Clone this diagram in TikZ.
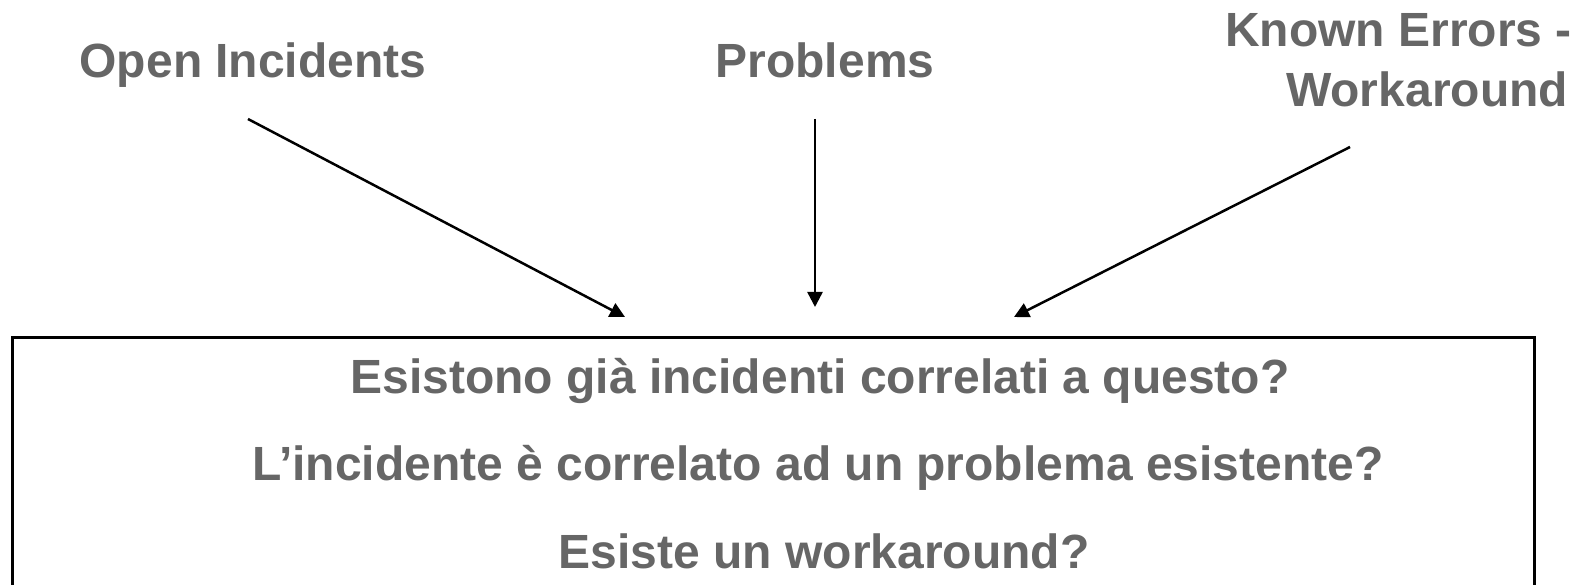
\documentclass[tikz,border=0pt]{standalone}
\usepackage{fontspec}
\setmainfont{Liberation Sans}
\usetikzlibrary{arrows.meta}
\definecolor{txt}{RGB}{102,102,102}
\begin{document}
\begin{tikzpicture}[x=1pt,y=-1pt,
  lbl/.style={font=\fontsize{48}{61}\selectfont\bfseries, text=txt, inner sep=0pt},
  conn/.style={draw=black, line width=2.5pt, -{Triangle[length=15pt,width=15pt]}},
  frame/.style={draw=black, line width=2.6pt, inner sep=0pt, minimum width=1522pt, minimum height=320pt, anchor=north west}]
\useasboundingbox (0,0) rectangle (1583,585);
\clip (0,0) rectangle (1583,585);
\fill[white] (0,0) rectangle (1583,585);
% labels
\node[lbl, anchor=base] (oi) at (253,78) {Open Incidents};
\node[lbl, anchor=base] (pr) at (825,78) {Problems};
\node[lbl, anchor=base west] (ke) at (1225,47) {Known Errors -};
\node[lbl, anchor=base west] (wa) at (1286,107) {Workaround};
% box
\node[frame] (box) at (11,336) {};
\node[lbl, anchor=base] (q1) at (820,394) {Esistono già incidenti correlati a questo?};
\node[lbl, anchor=base] (q2) at (818,480) {L’incidente è correlato ad un problema esistente?};
\node[lbl, anchor=base] (q3) at (824,568) {Esiste un workaround?};
% connector ends
\coordinate (s1) at (248,119);
\coordinate (t1) at (625,317);
\coordinate (s2) at (815,119);
\coordinate (t2) at (815,307);
\coordinate (s3) at (1350,147);
\coordinate (t3) at (1014,317);
\draw[conn] (s1) -- (t1);
\draw[conn] (s2) -- (t2);
\draw[conn] (s3) -- (t3);
\end{tikzpicture}
\end{document}
